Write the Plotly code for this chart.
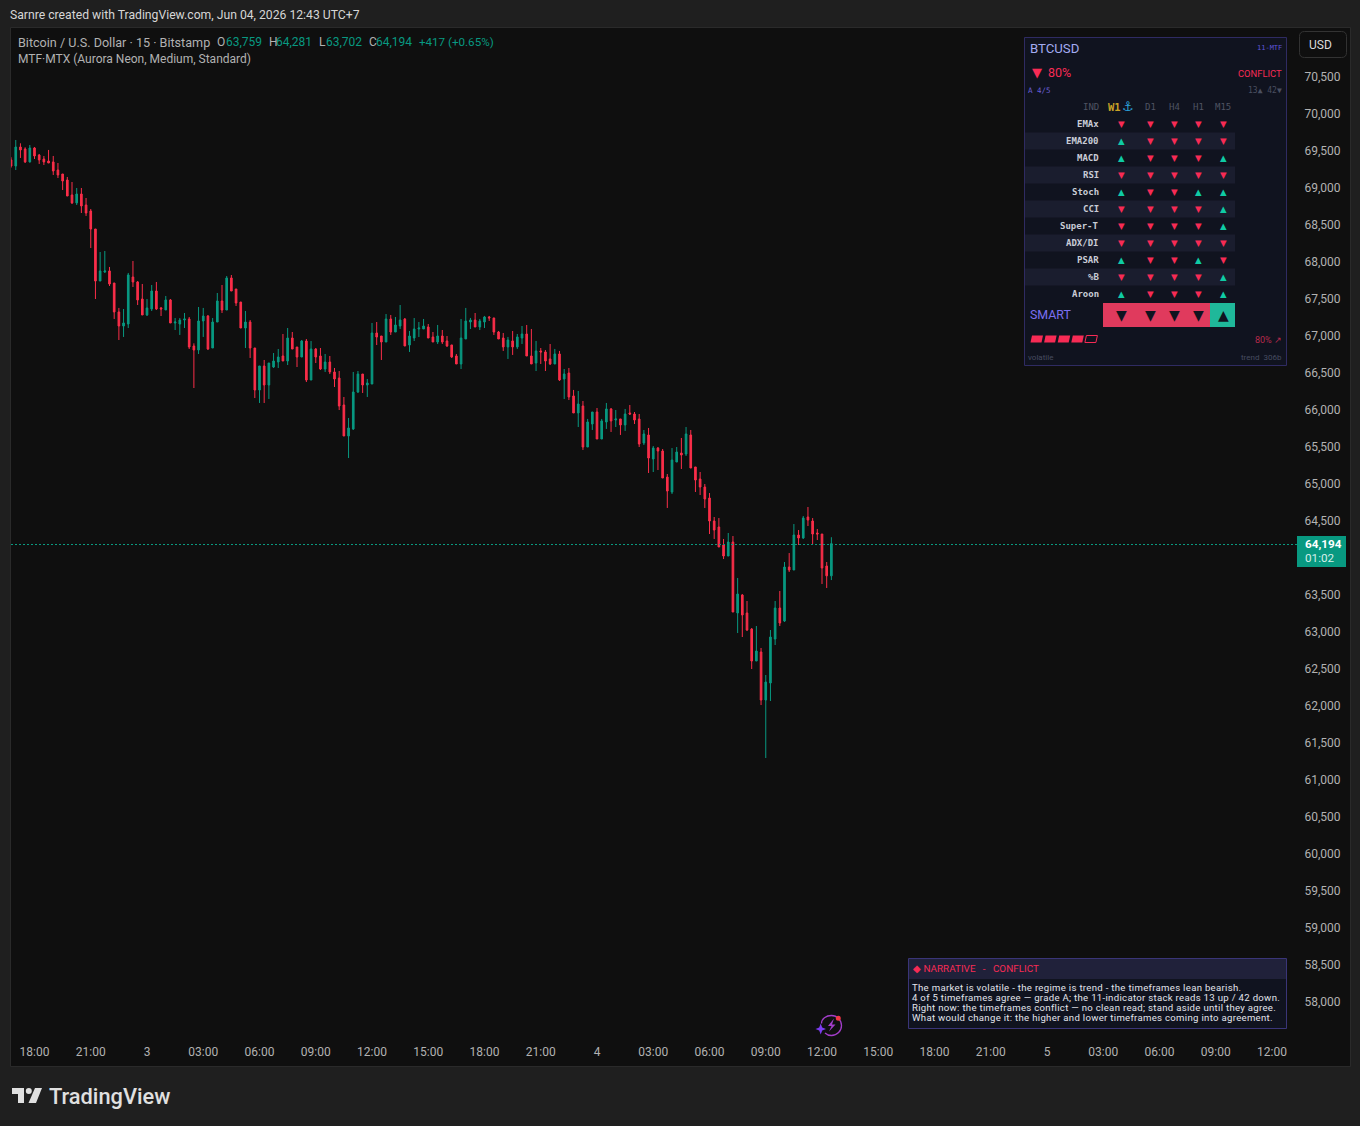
import pandas as pd
import plotly.graph_objects as go

# ---- BTC/USD 15-minute candles -------------------------------------------
start_time = "2026-06-02 16:45"

opens = [69379,69297,69554,69527,69352,69541,69446,69392,69365,69352,
69243,69189,69108,68906,68798,68919,68770,68689,68446,67743,
67865,67879,67716,67325,67135,67162,67797,67730,67500,67284,
67365,67608,67379,67352,67487,67176,67162,67216,67230,66865,
66811,67203,67270,66838,67189,67473,67351,67784,67635,67459,
67108,67189,66838,66270,66595,66338,66581,66649,66730,66662,
66973,66851,66716,66932,66405,66824,66730,66554,66649,66514,
66432,66068,65649,65743,66243,66486,66338,66351,67041,67000,
66919,67230,67054,67135,67230,66878,66973,67095,67095,67122,
66987,66919,67000,66933,66879,66730,66622,66960,67189,67216,
67122,67189,67257,67244,67054,66973,66852,66933,66852,66973,
67027,66730,66635,66798,66784,66690,66622,66757,66419,66500,
66190,65960,66054,65500,65811,65973,65608,65838,66014,65865,
65879,65798,65960,65946,65878,65554,65662,65338,65486,65446,
65094,64892,65297,65419,65405,65662,65230,65067,64959,64811,
64500,64419,64176,64027,64216,63257,63500,63257,63040,62608,
62730,62081,62311,62905,63324,63148,63878,63838,64311,64270,
64554,64500,64338,64324,63892,63759]

highs = [69415,69649,69604,69550,69581,69554,69460,69433,69514,69433,
69338,69189,69149,69081,69000,69000,68865,68716,68446,68135,
68149,67933,67716,67379,67365,67852,68014,67743,67703,67500,
67689,67730,67392,67541,67500,67243,67243,67311,67257,66901,
67392,67379,67284,67243,67581,67689,67811,67824,67635,67459,
67338,67216,66838,66595,66676,66635,66770,66824,67027,67108,
67054,66851,66946,66959,66932,66838,66838,66757,66730,66568,
66527,66176,65892,66514,66527,66486,66419,67176,67189,67000,
67297,67284,67257,67419,67243,67068,67243,67189,67230,67162,
67054,67149,67081,67000,66879,66757,67230,67379,67244,67311,
67230,67271,67271,67244,67068,67041,66987,67068,67027,67135,
67149,67095,66933,66838,66811,66892,66825,66798,66554,66568,
66271,66257,66122,65879,65973,66027,65879,66095,66027,66000,
65879,66014,66068,65973,65946,65730,65757,65513,65500,65473,
65135,65486,65500,65622,65770,65730,65230,65162,65000,64878,
64554,64540,64257,64338,64297,63730,63513,63419,63054,63081,
62784,62419,63027,63419,63554,63946,64067,64459,64378,64567,
64689,64540,64392,64324,63946,64281]

lows = [69275,69243,69406,69338,69345,69392,69325,69311,69338,69176,
69135,68973,68892,68784,68770,68662,68622,68189,67500,67743,
67852,67676,67230,66946,66987,67108,67662,67419,67284,67270,
67338,67352,67270,67352,67176,67081,67014,67108,66824,66297,
66757,66987,66811,66838,67189,67311,67351,67608,67405,67108,
66838,66703,66162,66095,66095,66149,66568,66568,66662,66608,
66824,66581,66716,66378,66405,66635,66541,66514,66486,66311,
66000,65649,65351,65730,66230,66230,66176,66351,66878,66676,
66919,67014,67054,67095,66865,66784,66932,66986,67095,66973,
66919,66892,66892,66852,66703,66622,66554,66960,67095,67122,
67081,67108,67203,67014,66960,66798,66690,66744,66825,66892,
66730,66622,66527,66622,66527,66608,66622,66392,66149,66135,
65960,65770,65460,65500,65730,65608,65608,65744,65703,65770,
65663,65717,65933,65811,65500,65527,65149,65162,65189,65081,
64676,64865,65297,65203,65378,65216,64892,64851,64676,64324,
64257,64149,63986,64027,63270,62986,62932,63013,62500,62608,
62013,61297,62068,62824,63081,63135,63811,63838,64176,64257,
64432,64189,64243,63649,63595,63702]

closes = [69297,69554,69514,69352,69541,69433,69379,69352,69338,69230,
69176,69095,68892,68798,68919,68757,68662,68446,67743,67879,
67879,67703,67325,67135,67176,67825,67730,67487,67284,67379,
67608,67365,67365,67487,67176,67189,67216,67230,66851,66811,
67203,67270,66824,67189,67473,67351,67784,67608,67446,67108,
67189,66838,66270,66595,66338,66635,66662,66716,66662,66973,
66824,66716,66932,66405,66824,66716,66554,66649,66514,66419,
66054,65649,65757,66243,66486,66338,66365,67041,66986,66919,
67230,67054,67149,67216,66865,67000,67095,67108,67135,66973,
66919,67000,66919,66865,66717,66622,66973,67203,67216,67122,
67203,67257,67244,67054,66960,66852,66946,66852,66987,67027,
66730,66622,66798,66784,66662,66622,66757,66406,66487,66176,
65960,66081,65500,65838,65973,65608,65852,66014,65852,65879,
65798,65946,65946,65865,65540,65676,65351,65486,65446,65081,
64905,65324,65432,65392,65676,65216,65054,64959,64797,64500,
64378,64149,64027,64216,63270,63513,63230,63027,62608,62743,
62081,62324,62932,63324,63121,63878,63838,64311,64270,64540,
64513,64324,64324,63865,63759,64194]

last_price = 64194
# 64,000 sits behind the last-price tag, so it carries no label
price_ticks = [58000,58500,59000,59500,60000,60500,61000,61500,62000,62500,
               63000,63500,64500,65000,65500,66000,66500,67000,67500,
               68000,68500,69000,69500,70000,70500]
time_ticks = ["2026-06-02 18:00","2026-06-02 21:00","2026-06-03 00:00","2026-06-03 03:00",
              "2026-06-03 06:00","2026-06-03 09:00","2026-06-03 12:00","2026-06-03 15:00",
              "2026-06-03 18:00","2026-06-03 21:00","2026-06-04 00:00","2026-06-04 03:00",
              "2026-06-04 06:00","2026-06-04 09:00","2026-06-04 12:00","2026-06-04 15:00",
              "2026-06-04 18:00","2026-06-04 21:00","2026-06-05 00:00","2026-06-05 03:00",
              "2026-06-05 06:00","2026-06-05 09:00","2026-06-05 12:00"]
time_labels = ["18:00","21:00","3","03:00","06:00","09:00","12:00","15:00","18:00","21:00","4",
               "03:00","06:00","09:00","12:00","15:00","18:00","21:00","5","03:00","06:00",
               "09:00","12:00"]

# ---- MTF matrix panel ----------------------------------------------------
timeframes = ["D1", "H4", "H1", "M15"]
indicators = ["EMAx","EMA200","MACD","RSI","Stoch","CCI","Super-T","ADX/DI","PSAR","%B","Aroon"]
signals = ["ddddd","udddd","udddu","ddddd","uddu"+"u","ddddu","ddddu","ddddd","uddud","ddddu","udddu"]
smart_row = "ddddu"
conviction_filled = [True, True, True, True, False]
narrative = [
    "The market is volatile - the regime is trend - the timeframes lean bearish.",
    "4 of 5 timeframes agree — grade A; the 11-indicator stack reads 13 up / 42 down.",
    "Right now: the timeframes conflict — no clean read; stand aside until they agree.",
    "What would change it: the higher and lower timeframes coming into agreement.",
]

# ---- Canvas geometry and palette -----------------------------------------
W, H = 1360, 1126
UP, DOWN = "#089981", "#FA2E49"
NEON_UP, NEON_DOWN = "#0FCBA4", "#F72B55"
PANEL, STRIPE, EDGE = "#10131F", "#1A1D2E", "#2F2B62"
SANS, MONO = "Roboto", "DejaVu Sans Mono"
TEXT = "#B2B2B2"

px = lambda x: x / W
py = lambda y: 1 - y / H

annotations, shapes = [], []


def label(text, x, y, size=12, color=TEXT, anchor="left", family=SANS, weight=None):
    # annotations carry about a pixel of inner padding, taken back here
    nudge = {"left": -1.2, "right": 1.2, "center": 0}[anchor]
    font = dict(size=size, color=color, family=family)
    if weight:
        font["weight"] = weight
    annotations.append(dict(text=text, x=px(x + nudge), y=py(y), xref="paper", yref="paper",
                            xanchor=anchor, yanchor="middle", showarrow=False, borderpad=0,
                            align="left", font=font))


def rect(x0, y0, x1, y1, fill, line=None, width=1, layer="above"):
    shapes.append(dict(type="rect", xref="paper", yref="paper", x0=px(x0), x1=px(x1),
                       y0=py(y0), y1=py(y1), fillcolor=fill, layer=layer,
                       line=dict(color=line or fill, width=width if line else 0)))


def path(cmds, fill=None, line=None, width=0, layer="above"):
    """cmds: sequence of (letter, x, y, x, y, ...) in canvas pixels."""
    parts = []
    for c in cmds:
        nums = c[1:]
        coords = [f"{px(nums[i]):.5f},{py(nums[i + 1]):.5f}" for i in range(0, len(nums), 2)]
        parts.append(c[0] + " ".join(coords))
    shapes.append(dict(type="path", xref="paper", yref="paper", path=" ".join(parts),
                       fillcolor=fill or "rgba(0,0,0,0)", layer=layer,
                       line=dict(color=line or "rgba(0,0,0,0)", width=width)))


def poly(points, fill, line=None, width=0):
    path([("M",) + points[0]] + [("L",) + p for p in points[1:]] + [("Z",)],
         fill=fill, line=line, width=width)


# ---- Pane and header -----------------------------------------------------
rect(10.5, 27.5, 1350.5, 1066.5, "#0F0F0F", "#2A2A2A", 1, layer="below")

label("Sarnre created with TradingView.com, Jun 04, 2026 12:43 UTC+7", 10, 15, 12.2, "#D6D6D6")
label("Bitcoin / U.S. Dollar · 15 · Bitstamp", 18, 42, 12.6, TEXT)
for letter, lx, value, vx in [("O", 217, "63,759", 225.7), ("H", 268.7, "64,281", 276),
                              ("L", 319, "63,702", 326), ("C", 369, "64,194", 376)]:
    label(letter, lx, 42, 12, TEXT)
    label(value, vx, 42, 12, UP)
label("+417 (+0.65%)", 419, 42, 11.6, UP)
label("MTF·MTX (Aurora Neon, Medium, Standard)", 18, 59, 12, TEXT)

# Currency button
bx0, by0, bx1, by1, br = 1299.5, 31.5, 1346.5, 57.5, 5
path([("M", bx0 + br, by0), ("L", bx1 - br, by0), ("Q", bx1, by0, bx1, by0 + br),
      ("L", bx1, by1 - br), ("Q", bx1, by1, bx1 - br, by1), ("L", bx0 + br, by1),
      ("Q", bx0, by1, bx0, by1 - br), ("L", bx0, by0 + br), ("Q", bx0, by0, bx0 + br, by0), ("Z",)],
     fill="#0F0F0F", line="#333333", width=1)
label("USD", 1309, 45, 12, "#DBDBDB")

# Last-price tag: price and bar countdown share one two-line text
rect(1297, 536, 1346, 567, UP)
label("<span style='font-size:11.7px'><b>64,194</b><br>"
      "<span style='color:#D5EFE9'>01:02</span></span>", 1305, 551, 10.8, "#FFFFFF")

# ---- MTF panel -----------------------------------------------------------
rect(1024.5, 37.5, 1286.5, 365.5, PANEL, EDGE, 1)
label("BTCUSD", 1030, 48, 13.2, "#A3ABF2")
label("11-MTF", 1282, 48, 7, "#5F55DC", "right", MONO)
label("▼", 1032, 72, 13, NEON_DOWN, family="DejaVu Sans")
label("80%", 1048, 72, 12.5, NEON_DOWN)
label("CONFLICT", 1282, 73, 9.4, NEON_DOWN, "right")
label("A 4/5", 1028, 91, 7.5, "#6A5FD6", family=MONO)
label("13▲ 42▼", 1282, 91, 8, "#4A4F60", "right", MONO)

column_x = [1121, 1150, 1174, 1198, 1223]
label("IND", 1099, 107, 9, "#4F5362", "right", MONO)
label("<b>W1</b>", 1114, 107, 10.5, "#C9A227", "center", MONO)
label("⚓", 1128, 107, 13, "#2A9FD6", "center", "DejaVu Sans")
for tf, cx in zip(timeframes, [1150, 1174, 1198, 1223]):
    label(tf, cx, 107, 9, "#4F5362", "center", MONO)

ROW_TOP, ROW_H = 115.5, 17
for r, (name, row) in enumerate(zip(indicators, signals)):
    cy = ROW_TOP + ROW_H * r + ROW_H / 2
    if r % 2:
        rect(1025, cy - ROW_H / 2, 1235, cy + ROW_H / 2, STRIPE)
    label(f"<b>{name}</b>", 1099, cy, 9, "#C9CCD6", "right", MONO)
    for sig, cx in zip(row, column_x):
        label("▲" if sig == "u" else "▼", cx, cy, 8.6,
              NEON_UP if sig == "u" else NEON_DOWN, "center", "DejaVu Sans")

label("SMART", 1030, 314, 12.4, "#7B6FF0")
rect(1103, 303, 1210, 327, "#E03A5D")
rect(1210, 303, 1235, 327, "#1FB89A")
for sig, cx in zip(smart_row, column_x):
    label("▲" if sig == "u" else "▼", cx, 315, 14, "#10131F", "center", "DejaVu Sans")

# Conviction gauge
for n, filled in enumerate(conviction_filled):
    gx = 1030.5 + 13.6 * n
    cells = [(gx + 1.5, 335.5), (gx + 12.5, 335.5), (gx + 11, 342.5), (gx, 342.5)]
    poly(cells, NEON_DOWN if filled else None, NEON_DOWN if not filled else None, 1 if not filled else 0)

label("80% ↗", 1282, 340, 9, "#B82A4C", "right")
label("volatile", 1028, 357, 8, "#474C60")
label("trend  306b", 1282, 357, 8, "#474C60", "right")

# ---- Narrative panel -----------------------------------------------------
rect(908.5, 958.5, 1286.5, 1028.5, PANEL, "#3A3578", 1)
rect(909, 959, 1286, 979, "#20213A")
label("◆ NARRATIVE   -   CONFLICT", 913, 968.5, 9.9, NEON_DOWN)
# The outer font size sets the 10px line pitch, the span sets the glyph size
label("<span style='font-size:9.6px;letter-spacing:0.3px'>" + "<br>".join(narrative) + "</span>",
      912, 1002.4, 7.7, "#E2E4EC")

# ---- Assistant badge -----------------------------------------------------
cx, cy, r, k = 831.5, 1025.5, 10, 5.5
path([("M", cx - r, cy - 2), ("C", cx - r, cy - k - 1, cx - k, cy - r, cx, cy - r),
      ("C", cx + k, cy - r, cx + r, cy - k, cx + r, cy),
      ("C", cx + r, cy + k, cx + k, cy + r, cx, cy + r),
      ("C", cx - 2.5, cy + r, cx - 5, cy + 9, cx - 6.5, cy + 7.5)], line="#A23DC8", width=1.3)
poly([(834, 1018.5), (828, 1026), (831.5, 1026), (829, 1031.5), (835.5, 1024.5), (832, 1024.5)], "#A23DC8")
poly([(820.7, 1023.5), (822.2, 1027.5), (826, 1029), (822.2, 1030.5), (820.7, 1034.5),
      (819.2, 1030.5), (815.5, 1029), (819.2, 1027.5)], "#7C3CF0")
shapes.append(dict(type="circle", xref="paper", yref="paper", x0=px(835.8), x1=px(840.8),
                   y0=py(1020.8), y1=py(1015.8), fillcolor="#F23645", line=dict(width=0)))

# ---- Footer wordmark -----------------------------------------------------
LOGO = "#E0E0E0"
poly([(12, 1088), (24, 1088), (24, 1103), (18, 1103), (18, 1094), (12, 1094)], LOGO)
shapes.append(dict(type="circle", xref="paper", yref="paper", x0=px(25.8), x1=px(31.8),
                   y0=py(1094), y1=py(1088), fillcolor=LOGO, line=dict(width=0)))
poly([(35, 1088), (42, 1088), (36, 1103), (28.5, 1103)], LOGO)
label("TradingView", 49, 1096, 21.8, LOGO, weight=500)

# ---- Chart ---------------------------------------------------------------
times = pd.date_range(start_time, periods=len(opens), freq="15min")

fig = go.Figure(go.Candlestick(
    x=times, open=opens, high=highs, low=lows, close=closes,
    increasing=dict(line=dict(color=UP, width=1), fillcolor=UP),
    decreasing=dict(line=dict(color=DOWN, width=1), fillcolor=DOWN),
    whiskerwidth=0, hoverinfo="skip", showlegend=False,
))

# Overlay axis whose single dotted gridline marks the last traded price
fig.add_trace(go.Scatter(
    x=[times[-1]], y=[last_price], yaxis="y2", mode="markers", marker=dict(opacity=0, size=1),
    hoverinfo="skip", showlegend=False,
))

PLOT_LEFT, PLOT_RIGHT, PLOT_TOP, PLOT_BOTTOM = 11, 1297, 28, 1037
PRICE_PER_PX = 500 / 37
MIN_PER_PX = 180 / 56.25
anchor_time = pd.Timestamp("2026-06-02 18:00")
x_min = anchor_time - pd.Timedelta(minutes=(34.5 - PLOT_LEFT) * MIN_PER_PX)
x_max = anchor_time + pd.Timedelta(minutes=(PLOT_RIGHT - 34.5) * MIN_PER_PX)
y_max = 70500 + (77 - PLOT_TOP) * PRICE_PER_PX
y_min = 70500 - (PLOT_BOTTOM - 77) * PRICE_PER_PX

fig.update_layout(
    width=W, height=H, autosize=False, margin=dict(l=0, r=0, t=0, b=0),
    paper_bgcolor="#1F1F1F", plot_bgcolor="rgba(0,0,0,0)",
    font=dict(family=SANS, size=12, color=TEXT), boxgap=0.5, hovermode=False,
    annotations=annotations, shapes=shapes, showlegend=False,
    xaxis=dict(domain=[px(PLOT_LEFT), px(PLOT_RIGHT)], range=[x_min, x_max], type="date",
               rangeslider=dict(visible=False), showgrid=False, zeroline=False, showline=False,
               tickmode="array", tickvals=time_ticks, ticktext=time_labels, ticks="outside",
               ticklen=4, tickcolor="rgba(0,0,0,0)", tickfont=dict(size=12, color=TEXT, family=SANS)),
    yaxis=dict(domain=[py(PLOT_BOTTOM), py(PLOT_TOP)], range=[y_min, y_max], side="right",
               showgrid=False, zeroline=False, showline=False, tickmode="array",
               tickvals=price_ticks, ticktext=[f"{v:,}" for v in price_ticks], ticks="outside",
               ticklen=4, tickcolor="rgba(0,0,0,0)", tickfont=dict(size=12, color=TEXT, family=SANS)),
    yaxis2=dict(domain=[py(PLOT_BOTTOM + 1), py(PLOT_TOP + 1)], range=[y_min, y_max], anchor="x",
                side="left", zeroline=False, showline=False, showticklabels=False, ticks="",
                tickmode="array", tickvals=[last_price], showgrid=True, gridcolor="#0A9A80",
                griddash="2px,2px", gridwidth=1),
)

fig.write_html("out.html", config={"displayModeBar": False})
